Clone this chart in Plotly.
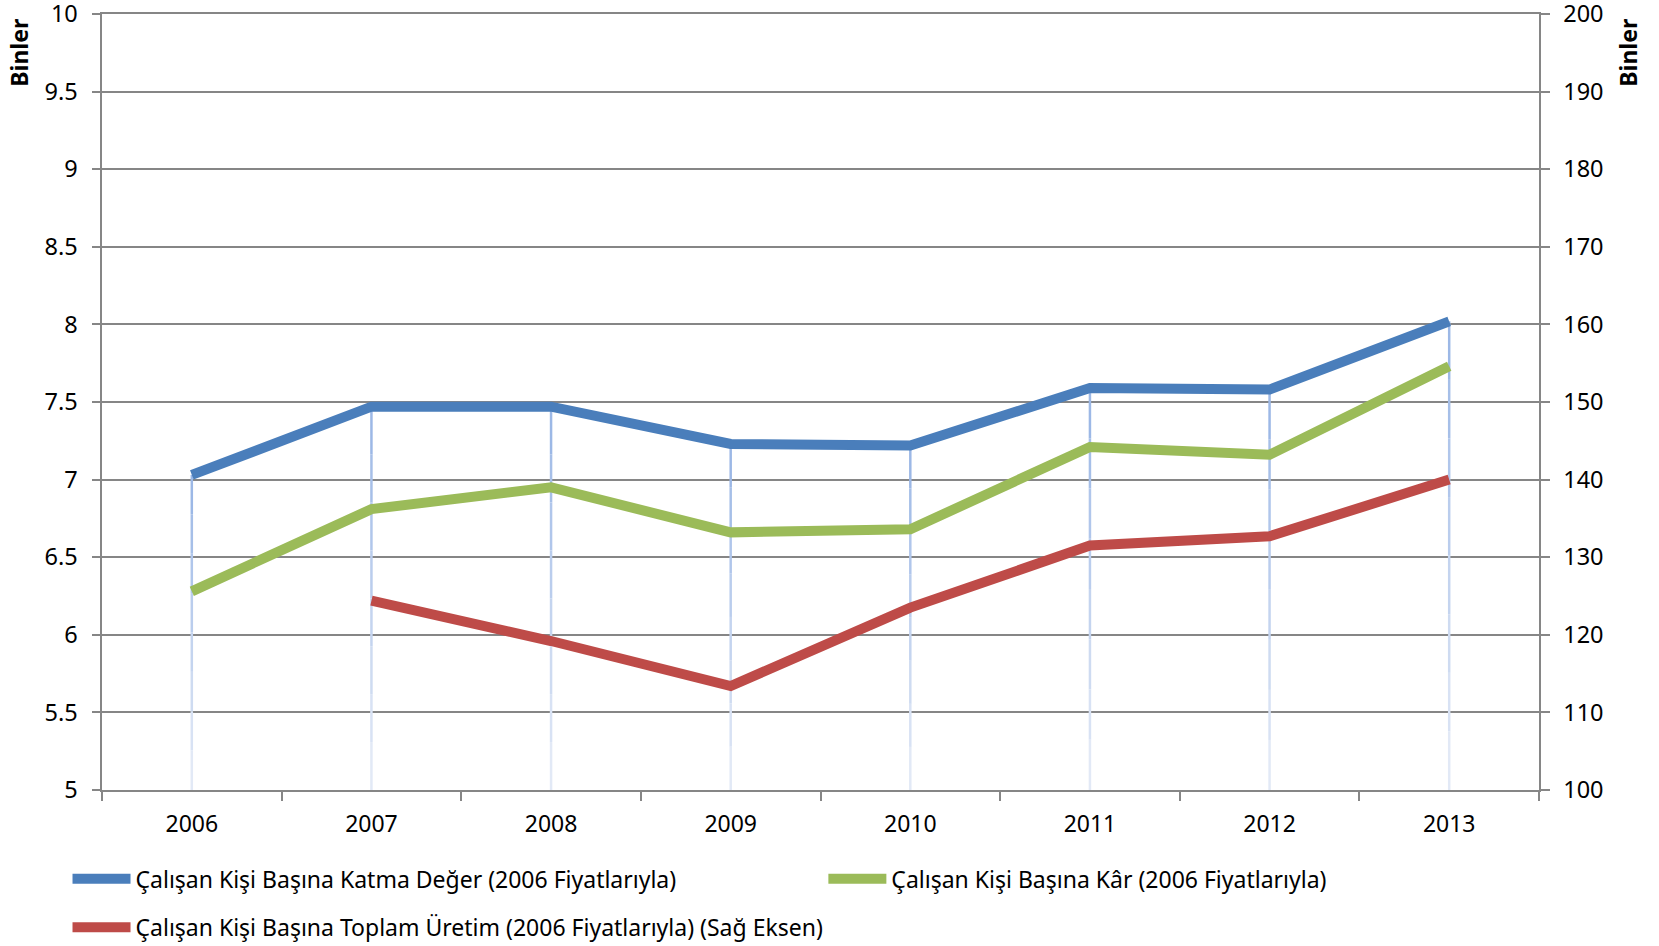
import plotly.graph_objects as go

years = ["2006", "2007", "2008", "2009", "2010", "2011", "2012", "2013"]
katma_deger = [7.03, 7.47, 7.47, 7.23, 7.22, 7.59, 7.58, 8.02]
kar = [6.28, 6.81, 6.95, 6.66, 6.68, 7.21, 7.16, 7.73]
toplam_uretim = [None, 124.4, 119.2, 113.4, 123.5, 131.5, 132.7, 140.0]

left_ticks = [5, 5.5, 6, 6.5, 7, 7.5, 8, 8.5, 9, 9.5, 10]
left_labels = ["5", "5.5", "6", "6.5", "7", "7.5", "8", "8.5", "9", "9.5", "10"]
right_ticks = [100, 110, 120, 130, 140, 150, 160, 170, 180, 190, 200]

names = [
    "Çalışan Kişi Başına Katma Değer (2006 Fiyatlarıyla)",
    "Çalışan Kişi Başına Kâr (2006 Fiyatlarıyla)",
    "Çalışan Kişi Başına Toplam Üretim (2006 Fiyatlarıyla) (Sağ Eksen)",
]
colors = ["#4a7ebb", "#9bbb59", "#be4b48"]

Y_MIN = 5
FONT = "Noto Sans"

fig = go.Figure()

# drop lines from the highest left-axis point down to the x axis,
# drawn as stacked segments fading from mid blue to pale blue
tops = [max(a, b) for a, b in zip(katma_deger, kar)]
N_SEG = 8
c_top = (0x9c, 0xb8, 0xe6)
c_bot = (0xe2, 0xe9, 0xf6)
for k in range(N_SEG):
    f = k / (N_SEG - 1)
    col = "rgb(%d,%d,%d)" % tuple(round(a + (b - a) * f) for a, b in zip(c_top, c_bot))
    seg_top = [Y_MIN + (t - Y_MIN) * (1 - k / N_SEG) for t in tops]
    seg_len = [(t - Y_MIN) / N_SEG for t in tops]
    fig.add_trace(go.Scatter(
        x=years, y=seg_top, mode="markers", marker=dict(size=1, opacity=0),
        showlegend=False, hoverinfo="skip",
        error_y=dict(type="data", symmetric=False, array=[0] * len(tops),
                     arrayminus=seg_len, color=col, thickness=2.5, width=0),
    ))

fig.add_trace(go.Scatter(x=years, y=katma_deger, name=names[0], mode="lines",
                         line=dict(color=colors[0], width=10), legend="legend"))
fig.add_trace(go.Scatter(x=years, y=kar, name=names[1], mode="lines",
                         line=dict(color=colors[1], width=10), legend="legend2"))
fig.add_trace(go.Scatter(x=years, y=toplam_uretim, name=names[2], mode="lines",
                         line=dict(color=colors[2], width=10), yaxis="y2",
                         connectgaps=False, legend="legend3"))

grid = "#868686"
leg_common = dict(orientation="h", xanchor="left", yanchor="middle",
                  font=dict(size=23), itemwidth=58, bgcolor="rgba(0,0,0,0)")
fig.update_layout(
    width=1659, height=946,
    margin=dict(l=101.5, r=120.3, t=13.7, b=156.3, autoexpand=False),
    paper_bgcolor="white", plot_bgcolor="white",
    font=dict(family=FONT, size=23, color="#000000"),
    xaxis=dict(type="category", tickson="boundaries", ticks="outside",
               ticklen=9, tickcolor=grid, tickwidth=2, showline=True,
               linecolor=grid, linewidth=2, mirror=True, showgrid=False,
               tickfont=dict(size=23), range=[-0.5, 7.5], automargin=False,
               ticklabelstandoff=12),
    yaxis=dict(range=[5, 10], tickvals=left_ticks, ticktext=left_labels,
               ticks="outside", ticklen=8.5, tickwidth=2,
               tickcolor=grid, showline=True, linecolor=grid, linewidth=2,
               gridcolor=grid, gridwidth=2, zeroline=False,
               tickfont=dict(size=23.5), ticklabelstandoff=9,
               automargin=False, ticklabeloverflow="allow"),
    yaxis2=dict(range=[100, 200], tickvals=right_ticks, overlaying="y",
                side="right", ticks="outside", ticklen=8.5, tickwidth=2,
                tickcolor=grid, showline=True, linecolor=grid, linewidth=2,
                showgrid=False, zeroline=False, tickfont=dict(size=23.5),
                ticklabelstandoff=9, automargin=False,
                ticklabeloverflow="allow"),
    legend=dict(x=-0.024, y=-0.1144, **leg_common),
    legend2=dict(x=0.502, y=-0.1144, **leg_common),
    legend3=dict(x=-0.024, y=-0.177, **leg_common),
    annotations=[
        dict(text="<b>Binler</b>", xref="paper", yref="paper", x=-0.0574,
             y=0.9494, xanchor="center", yanchor="middle", textangle=-90,
             showarrow=False, font=dict(size=23)),
        dict(text="<b>Binler</b>", xref="paper", yref="paper", x=1.0623,
             y=0.9494, xanchor="center", yanchor="middle", textangle=-90,
             showarrow=False, font=dict(size=23)),
    ],
)

fig.write_html("out.html", config={"displayModeBar": False},
               post_script="document.body.style.margin='0px';")
